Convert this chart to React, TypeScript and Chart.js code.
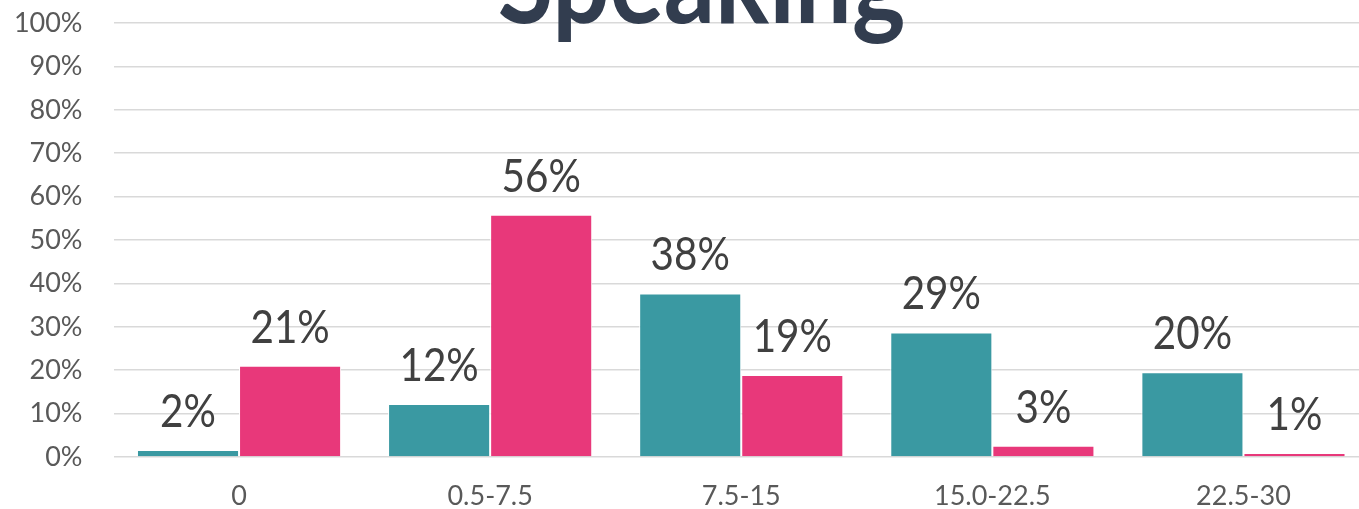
import { useEffect, useRef } from "react";
import { Chart, registerables } from "chart.js";

Chart.register(...registerables);

const categories = ["0", "0.5-7.5", "7.5-15", "15.0-22.5", "22.5-30"];
const tealValues = [1.6, 12.2, 37.7, 28.7, 19.5];
const pinkValues = [21.0, 55.8, 18.9, 2.6, 0.9];
const titleText = "Speaking";

const FONT = "Lato";

const titlePlugin = {
  id: "bigTitle",
  afterDraw(chart: any) {
    const ctx = chart.ctx;
    ctx.save();
    ctx.font = `bold 115px ${FONT}`;
    ctx.fillStyle = "#323D4F";
    ctx.textAlign = "center";
    ctx.textBaseline = "alphabetic";
    ctx.translate(701.5, 23);
    ctx.scale(0.88, 1);
    ctx.fillText(titleText, 0, 0);
    ctx.restore();
  },
};

const labelPlugin = {
  id: "barLabels",
  afterDatasetsDraw(chart: any) {
    const ctx = chart.ctx;
    ctx.save();
    ctx.font = `47px ${FONT}`;
    ctx.fillStyle = "#404040";
    ctx.textAlign = "center";
    ctx.textBaseline = "alphabetic";
    chart.data.datasets.forEach((ds: any, i: number) => {
      const meta = chart.getDatasetMeta(i);
      meta.data.forEach((bar: any, j: number) => {
        const text = Math.round(ds.data[j]) + "%";
        ctx.save();
        ctx.translate(bar.x, bar.y - 23);
        ctx.scale(0.86, 1);
        ctx.fillText(text, 0, 0);
        ctx.restore();
      });
    });
    ctx.restore();
  },
};

const zeroPad = (scale: any) => {
  scale.paddingTop = 0;
  scale.paddingBottom = 0;
  scale.paddingLeft = 0;
  scale.paddingRight = 0;
};

export default function App() {
  const ref = useRef<HTMLCanvasElement | null>(null);

  useEffect(() => {
    if (!ref.current) return;
    const chart = new Chart(ref.current, {
      type: "bar",
      data: {
        labels: categories,
        datasets: [
          {
            label: "Series 1",
            data: tealValues,
            backgroundColor: "#3A99A2",
            borderColor: "#FFFFFF",
            borderWidth: 1,
            borderSkipped: "bottom",
          },
          {
            label: "Series 2",
            data: pinkValues,
            backgroundColor: "#E8387A",
            borderColor: "#FFFFFF",
            borderWidth: 1,
            borderSkipped: "bottom",
          },
        ],
      },
      options: {
        animation: false,
        responsive: true,
        maintainAspectRatio: false,
        layout: { padding: { top: 23, left: 15, right: 0, bottom: 0 } },
        datasets: {
          bar: { categoryPercentage: 0.813, barPercentage: 1 },
        },
        plugins: {
          legend: { display: false },
          title: { display: false },
          tooltip: { enabled: false },
        },
        scales: {
          x: {
            grid: { display: false, drawTicks: false },
            border: { display: false },
            ticks: {
              color: "#595959",
              font: { family: FONT, size: 27, lineHeight: 1 },
              padding: 26,
            },
            afterFit: (scale: any) => {
              scale.height = 52;
              zeroPad(scale);
            },
          },
          y: {
            min: 0,
            max: 100,
            grid: { color: "#D9D9D9", lineWidth: 1.5, drawTicks: false },
            border: { display: false },
            ticks: {
              stepSize: 10,
              color: "#595959",
              font: { family: FONT, size: 27, lineHeight: 1 },
              padding: 31,
              callback: (v: any) => v + "%",
            },
            afterFit: (scale: any) => {
              scale.width = 98.5;
              zeroPad(scale);
            },
          },
        },
      },
      plugins: [labelPlugin, titlePlugin],
    });
    return () => chart.destroy();
  }, []);

  return (
    <div style={{ position: "fixed", left: 0, top: 0, width: 1369, height: 509 }}>
      <canvas ref={ref} />
    </div>
  );
}
